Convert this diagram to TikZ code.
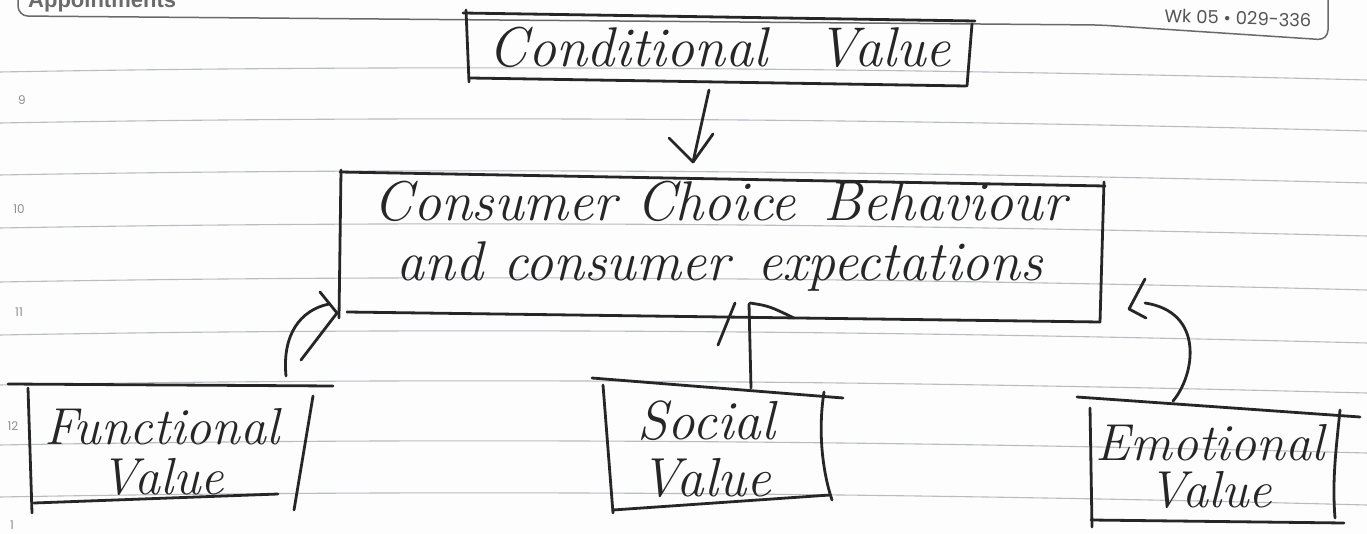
\documentclass[tikz,border=0pt]{standalone}
\usepackage{fontspec}
\newfontfamily\printfont{Poppins}
\newfontfamily\tabfont{Liberation Sans}
\usetikzlibrary{calc}
\definecolor{ink}{HTML}{262626}
\definecolor{rulecol}{HTML}{B9BCC3}
\definecolor{printgray}{HTML}{6A6A6A}
\definecolor{paper}{HTML}{FDFDFD}
\newcommand\handfont[2]{\fontsize{#1}{#2}\selectfont\itshape}

\begin{document}
\begin{tikzpicture}[x=1pt,y=-1pt,
  pen/.style={draw=ink, line width=2.8pt, line cap=round, line join=round},
  ruled/.style={draw=rulecol, line width=1.1pt},
  hand/.style={text=ink, align=center, inner sep=0pt},
  margin/.style={text=printgray!75, font=\printfont\fontsize{12}{12}\selectfont, inner sep=0pt},
]
\fill[paper] (0,0) rectangle (1367,534);
\useasboundingbox (0,0) rectangle (1367,534);
\clip (0,0) rectangle (1367,534);

% ruled notebook lines
\foreach \yy in {72,123,175,228,282,335,385,445,497}
  \draw[ruled] (0,\yy) .. controls (450,\yy-8) and (900,\yy-4) .. (1367,\yy+8);

% printed page header
\draw[printgray, line width=1.5pt, rounded corners=10pt]
  (18,-20) -- (18,16) -- (1100,25) -- (1328,40) -- (1328,-20);
\node[text=printgray, font=\tabfont\bfseries\fontsize{22}{22}\selectfont, anchor=base west, inner sep=0pt]
  (tab) at (28,8) {Appointments};
\node[text=printgray!80!black, font=\printfont\fontsize{18}{18}\selectfont, rotate=-2, inner sep=0pt]
  (week) at (1238,18) {Wk 05 • 029-336};

% margin hour numbers
\node[margin] (m9)  at (22,100) {9};
\node[margin] (m10) at (19,209) {10};
\node[margin] (m11) at (19,312) {11};
\node[margin] (m12) at (13,426) {12};
\node[margin] (m1)  at (12,525) {1};

% box texts
\node[hand, font=\handfont{56}{60}] (cv) at (720,47) {Conditional\hspace{0.9em}Value};
\node[hand, font=\handfont{56}{60}] (cc) at (720,236)
  {Consumer Choice\hspace{0.5em}Behaviour\\and consumer\hspace{0.5em}expectations};
\node[hand, font=\handfont{52}{50}] (fv) at (162,452) {Functional\\Value};
\node[hand, font=\handfont{55}{57}] (sv) at (706,449) {Social\\Value};
\node[hand, font=\handfont{52}{47}] (ev) at (1210,466) {Emotional\\Value};

% hand-drawn box outlines
\draw[pen] (463,13) -- (975,21);
\draw[pen] (466,10) -- (469,82);
\draw[pen] (972,24) -- (967,86);
\draw[pen] (470,78) -- (966,86);

\draw[pen] (340,172) -- (1105,186);
\draw[pen] (341,170) -- (339,318);
\draw[pen] (1104,182) -- (1100,322);
\draw[pen] (347,312) -- (1100,322);

\draw[pen] (8,384) -- (333,386);
\draw[pen] (28,388) -- (32,513);
\draw[pen] (313,396) -- (294,510);
\draw[pen] (34,503) -- (278,494);

\draw[pen] (592,378) -- (843,398);
\draw[pen] (603,385) -- (613,513);
\draw[pen] (824,392) .. controls (818,430) and (822,470) .. (832,500);
\draw[pen] (613,510) -- (830,495);

\draw[pen] (1077,397) -- (1360,417);
\draw[pen] (1090,408) -- (1092,527);
\draw[pen] (1340,410) .. controls (1336,450) and (1332,480) .. (1335,518);
\draw[pen] (1091,520) -- (1344,523);

% connector end points
\coordinate (cv-out) at (709,90);
\coordinate (cc-top) at (693,162);
\coordinate (fv-top) at (286,376);
\coordinate (cc-sw)  at (337,313);
\coordinate (sv-top) at (751,388);
\coordinate (cc-s)   at (749,304);
\coordinate (ev-top) at (1173,401);
\coordinate (cc-e)   at (1129,309);

% conditional -> consumer choice
\draw[pen] (cv-out) -- (cc-top);
\draw[pen] (cc-top) -- ++(-24,-24);
\draw[pen] (cc-top) -- ++(20,-28);

% functional -> consumer choice
\draw[pen] (fv-top) .. controls (282,335) and (300,310) .. ($(cc-sw)+(-8,-9)$);
\draw[pen] (cc-sw) -- ++(-17,-21);
\draw[pen] (cc-sw) -- ++(-36,47);

% social -> consumer choice
\draw[pen] (sv-top) -- (cc-s);
\draw[pen] ($(cc-s)+(-14,-1)$) -- ++(-17,42);
\draw[pen] ($(cc-s)+(1,-1)$) .. controls ($(cc-s)+(20,2)$) .. ($(cc-s)+(45,14)$);

% emotional -> consumer choice
\draw[pen] (ev-top) .. controls (1195,375) and (1205,312) .. ($(cc-e)+(16,-6)$);
\draw[pen] ($(cc-e)+(16,-30)$) -- (cc-e) -- ++(17,9);
\end{tikzpicture}
\end{document}
